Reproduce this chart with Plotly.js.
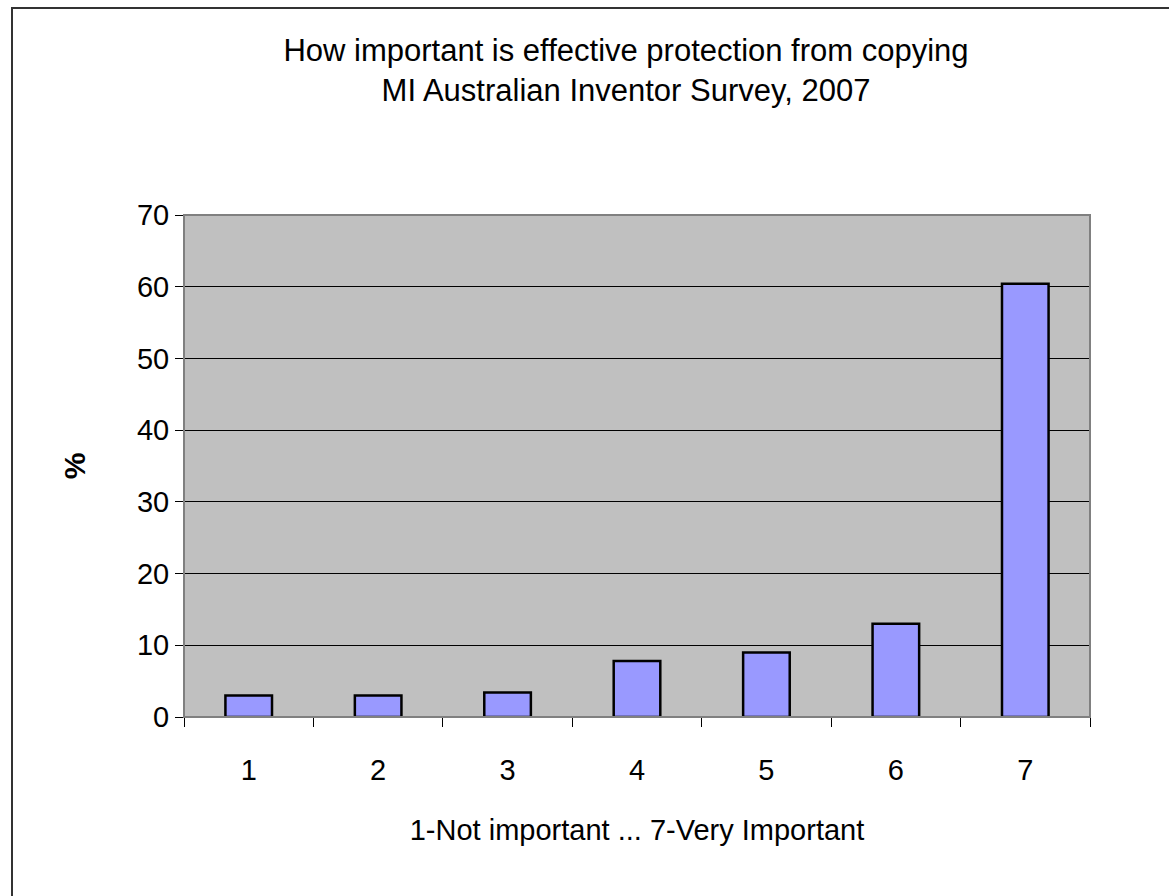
<!DOCTYPE html>
<html>
<head>
<meta charset="utf-8">
<script src="https://cdn.plot.ly/plotly-3.0.1.min.js"></script>
<style>
  html, body { margin: 0; padding: 0; background: #fff; }
  #chart { width: 1169px; height: 896px; position: absolute; left: 0; top: 0; }
  #frame { position: absolute; left: 11px; top: 7px; width: 1200px; height: 950px;
           border-left: 2px solid #333; border-top: 2px solid #333; pointer-events: none; }
</style>
</head>
<body>
<div id="chart"></div>
<div id="frame"></div>
<script>
const titleLines = ["How important is effective protection from copying", "MI Australian Inventor Survey, 2007"];
const categories = ["1", "2", "3", "4", "5", "6", "7"];
const percentages = [3.0, 3.0, 3.4, 7.8, 9.0, 13.0, 60.4];
const xTitle = "1-Not important ... 7-Very Important";
const yTitle = "%";
const yTicks = [0, 10, 20, 30, 40, 50, 60, 70];

const font = "Liberation Sans, Arial, sans-serif";

const trace = {
  type: "bar",
  x: categories,
  y: percentages,
  marker: { color: "#9999FF", line: { color: "#000000", width: 2.5 } },
  hoverinfo: "x+y"
};

const layout = {
  width: 1169,
  height: 896,
  paper_bgcolor: "rgba(0,0,0,0)",
  plot_bgcolor: "#C0C0C0",
  margin: { l: 184, r: 79, t: 215, b: 179 },
  bargap: 0.64,
  showlegend: false,
  title: {
    text: titleLines.join("<br>"),
    font: { family: font, size: 31, color: "#000" },
    x: 626 / 1169,
    xanchor: "center",
    xref: "container",
    y: 1 - 61 / 896,
    yanchor: "top",
    yref: "container"
  },
  xaxis: {
    type: "category",
    tickson: "boundaries",
    ticks: "outside",
    ticklen: 9,
    tickcolor: "#000",
    tickwidth: 1,
    ticklabelstandoff: 27,
    showline: true,
    linecolor: "#000",
    linewidth: 1,
    mirror: false,
    showgrid: false,
    tickfont: { family: font, size: 29, color: "#000" },
    title: { text: xTitle, font: { family: font, size: 29, color: "#000" }, standoff: 34 }
  },
  yaxis: {
    range: [0, 70],
    tickvals: yTicks,
    ticktext: yTicks.map(String),
    ticks: "outside",
    ticklen: 8,
    tickcolor: "#000",
    showline: true,
    linecolor: "#000",
    linewidth: 1,
    showgrid: true,
    gridcolor: "#000",
    gridwidth: 1,
    zeroline: false,
    tickfont: { family: font, size: 29, color: "#000" },
    title: { text: "<b>" + yTitle + "</b>", font: { family: font, size: 30, color: "#000" }, standoff: 42 }
  },
  shapes: [
    { type: "rect", xref: "paper", yref: "paper", x0: 0, x1: 1, y0: 0, y1: 1,
      line: { color: "#808080", width: 2 }, fillcolor: "rgba(0,0,0,0)", layer: "above" }
  ]
};

Plotly.newPlot("chart", [trace], layout, { displayModeBar: false, staticPlot: true });
</script>
</body>
</html>
